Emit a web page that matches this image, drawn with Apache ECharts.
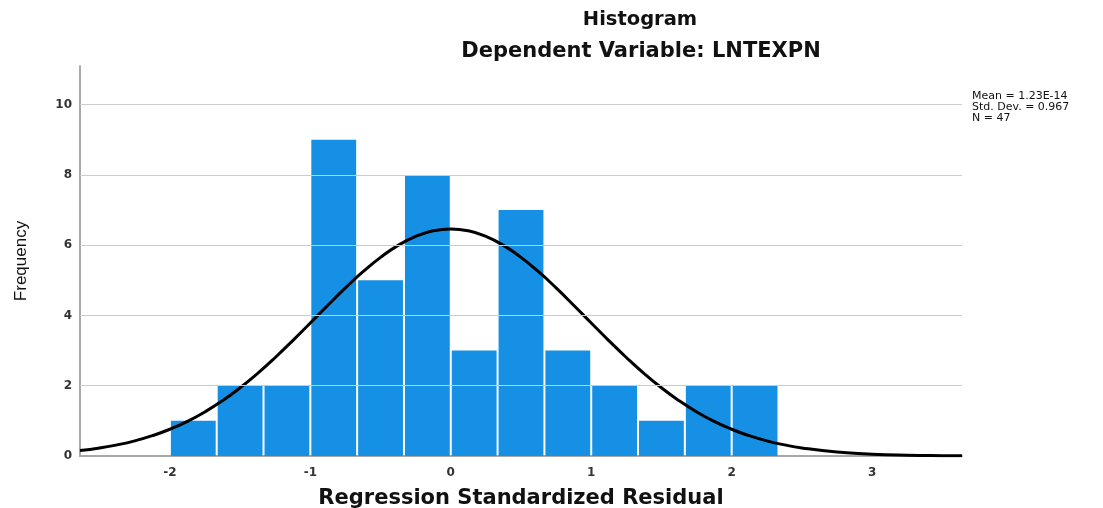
<!DOCTYPE html>
<html><head><meta charset="utf-8">
<script src="https://cdn.jsdelivr.net/npm/echarts@6/dist/echarts.min.js"></script>
<style>html,body{margin:0;padding:0;background:#fff}#c{width:1103px;height:508px}</style>
</head><body><div id="c"></div>
<script>
// Histogram bins (width 1/3) starting at -2
var binStarts = [-2, -1.6667, -1.3333, -1, -0.6667, -0.3333, 0, 0.3333, 0.6667, 1, 1.3333, 1.6667, 2];
var binEnds   = [-1.6667, -1.3333, -1, -0.6667, -0.3333, 0, 0.3333, 0.6667, 1, 1.3333, 1.6667, 2, 2.3333];
var frequencies = [1, 2, 2, 9, 5, 8, 3, 7, 3, 2, 1, 2, 2];
// Normal curve points
var curveX = [-2.64, -2.5, -2.375, -2.25, -2.125, -2, -1.875, -1.75, -1.625, -1.5, -1.375, -1.25, -1.125, -1, -0.875, -0.75, -0.625, -0.5, -0.375, -0.25, -0.125, 0,
              0.125, 0.25, 0.375, 0.5, 0.625, 0.75, 0.875, 1, 1.125, 1.25, 1.375, 1.5, 1.625, 1.75, 1.875, 2, 2.125, 2.25, 2.375, 2.5, 2.75, 3, 3.25, 3.5, 3.64];
var curveY = [0.155, 0.229, 0.317, 0.431, 0.578, 0.761, 0.986, 1.257, 1.575, 1.941, 2.352, 2.803, 3.285, 3.786, 4.292, 4.784, 5.245, 5.654, 5.995, 6.251, 6.409, 6.463,
              6.409, 6.251, 5.995, 5.654, 5.245, 4.784, 4.292, 3.786, 3.285, 2.803, 2.352, 1.941, 1.575, 1.257, 0.986, 0.761, 0.578, 0.431, 0.317, 0.229, 0.113, 0.053, 0.023, 0.009, 0.005];
var yGridValues = [2, 4, 6, 8, 10];
var yTicks = [0, 2, 4, 6, 8, 10];
var xTicks = [-2, -1, 0, 1, 2, 3];
var statsLines = ['Mean = 1.23E-14', 'Std. Dev. = 0.967', 'N = 47'];

var chart = echarts.init(document.getElementById('c'));
var barData = binStarts.map(function(s, i){ return [s, binEnds[i], frequencies[i]]; });
var curveData = curveX.map(function(x, i){ return [x, curveY[i]]; });
var font = '"Liberation Sans", Arial, sans-serif';
var wide = '"DejaVu Sans", sans-serif';

chart.setOption({
  animation: false,
  backgroundColor: '#ffffff',
  title: [
    {text: 'Histogram', left: 635, top: 5, textAlign: 'center',
     textStyle: {fontFamily: wide, fontSize: 19.5, fontWeight: 'bold', color: '#111'}},
    {text: 'Dependent Variable: LNTEXPN', left: 636, top: 36, textAlign: 'center',
     textStyle: {fontFamily: wide, fontSize: 21, fontWeight: 'bold', color: '#111'}},
    {text: statsLines.join('\n'), left: 967, top: 86,
     textStyle: {fontFamily: wide, fontSize: 11, fontWeight: 'normal', color: '#111', lineHeight: 11}}
  ],
  grid: {left: 80, right: 141, top: 66, bottom: 52, outerBoundsMode: 'none', containLabel: false},
  xAxis: {
    type: 'value', min: -2.64, max: 3.64,
    name: 'Regression Standardized Residual', nameLocation: 'middle', nameGap: 32,
    nameTextStyle: {fontFamily: wide, fontSize: 21, fontWeight: 'bold', color: '#111'},
    axisLine: {show: true, onZero: false, lineStyle: {color: '#a8a8a8', width: 2}},
    axisTick: {show: false},
    splitLine: {show: false},
    axisLabel: {
      fontFamily: wide, fontSize: 12, fontWeight: 'bold', color: '#333', margin: 11,
      customValues: xTicks
    }
  },
  yAxis: {
    type: 'value', min: 0, max: 11.1,
    name: 'Frequency', nameLocation: 'middle', nameGap: 50, nameRotate: 90,
    nameTextStyle: {fontFamily: font, fontSize: 17, color: '#111'},
    axisLine: {show: true, onZero: false, lineStyle: {color: '#a8a8a8', width: 2}},
    axisTick: {show: false},
    splitLine: {show: false},
    axisLabel: {
      fontFamily: wide, fontSize: 12, fontWeight: 'bold', color: '#333', margin: 8,
      customValues: yTicks
    }
  },
  series: [
    {
      type: 'scatter', data: [], z: 1, silent: true,
      markLine: {
        silent: true, symbol: 'none', animation: false,
        label: {show: false},
        lineStyle: {color: '#cccccc', width: 1.2, type: 'solid'},
        data: yGridValues.map(function(v){ return {yAxis: v}; })
      }
    },
    {
      type: 'custom', z: 2,
      data: barData,
      renderItem: function(params, api){
        var p0 = api.coord([api.value(0), api.value(2)]);
        var p1 = api.coord([api.value(1), 0]);
        return {
          type: 'rect',
          shape: {x: p0[0] + 1, y: p0[1], width: p1[0] - p0[0] - 2, height: p1[1] - p0[1]},
          style: {fill: '#1590e4'}
        };
      },
      encode: {x: [0, 1], y: 2}
    },
    {
      type: 'line', z: 3, data: curveData, smooth: true, showSymbol: false,
      lineStyle: {color: '#000', width: 3}, clip: true
    }
  ]
});
</script></body></html>
